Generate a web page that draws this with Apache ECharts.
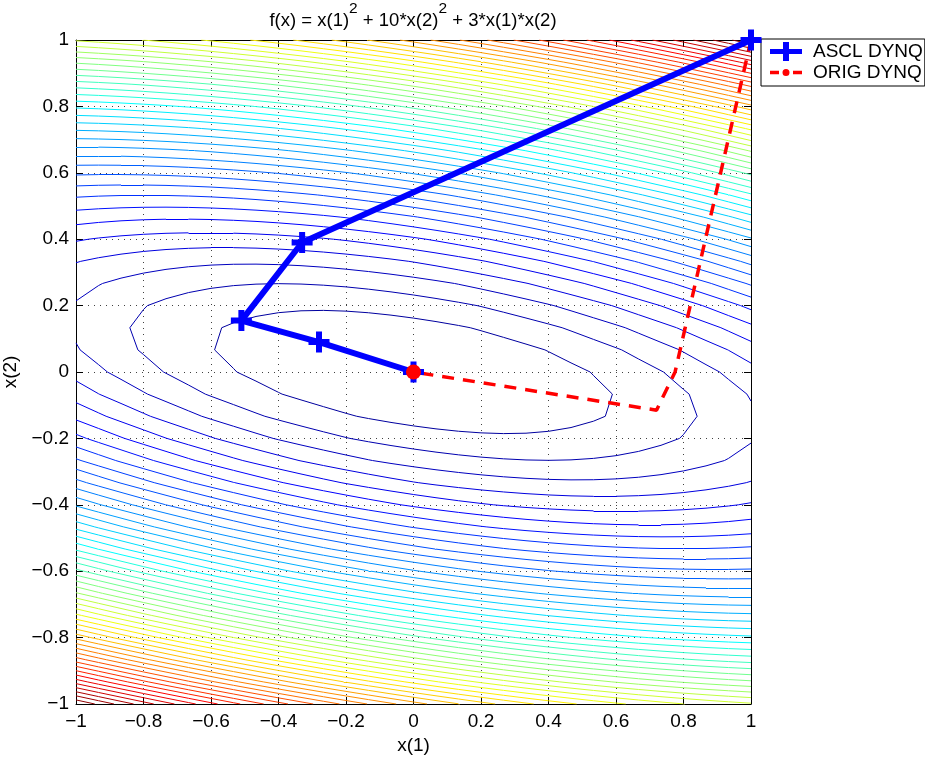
<!DOCTYPE html>
<html>
<head>
<meta charset="utf-8">
<script src="https://cdn.jsdelivr.net/npm/echarts@6/dist/echarts.min.js"></script>
<style>
  html, body { margin: 0; padding: 0; background: #fff; }
  #chart { width: 925px; height: 757px; }
</style>
</head>
<body>
<div id="chart"></div>
<script>
// Surface from the title: f(x) = x(1)^2 + 10*x(2)^2 + 3*x(1)*x(2)
// sampled on a coarse grid and contoured (as MATLAB's contour did)
const gridMin = -1;
const gridMax = 1;
const gridCount = 31;
const levelCount = 50;

// Optimizer paths
const asclX1 = [1, -0.33, -0.51, -0.28, 0];
const asclX2 = [1, 0.39, 0.155, 0.09, 0];
const origX1 = [1, 0.775, 0.72, 0];
const origX2 = [1, 0.0, -0.115, 0];

const legendNames = ['ASCL DYNQ', 'ORIG DYNQ'];
const titleText = '{n|f(x) = x(1)}{s|2}{n| + 10*x(2)}{s|2}{n| + 3*x(1)*x(2)}';

const FONT = '"Liberation Sans", Arial, Helvetica, sans-serif';

function f(a, b) {
    return a * a + 10 * b * b + 3 * a * b;
}

// MATLAB jet(m)
function jetMap(m) {
    const n = Math.ceil(m / 4);
    const u = [];
    for (let k = 1; k <= n; k++) u.push(k / n);
    for (let k = 1; k < n; k++) u.push(1);
    for (let k = n; k >= 1; k--) u.push(k / n);
    const g0 = Math.ceil(n / 2) - (m % 4 === 1 ? 1 : 0);
    const r = new Array(m).fill(0), g = new Array(m).fill(0), b = new Array(m).fill(0);
    u.forEach((v, k) => {
        const gi = g0 + k, ri = gi + n, bi = gi - n;
        if (gi >= 0 && gi < m) g[gi] = v;
        if (ri >= 0 && ri < m) r[ri] = v;
        if (bi >= 0 && bi < m) b[bi] = v;
    });
    return r.map((_, i) => 'rgb(' + Math.round(r[i] * 255) + ',' + Math.round(g[i] * 255) + ',' + Math.round(b[i] * 255) + ')');
}

// grid values
const gx = [];
for (let i = 0; i < gridCount; i++) gx.push(gridMin + i * (gridMax - gridMin) / (gridCount - 1));
const Z = gx.map(y => gx.map(x => f(x, y)));
let zmin = Infinity, zmax = -Infinity;
Z.forEach(row => row.forEach(v => { zmin = Math.min(zmin, v); zmax = Math.max(zmax, v); }));

const levels = [];
for (let k = 1; k <= levelCount; k++) levels.push(zmin + k * (zmax - zmin) / (levelCount + 1));

const jet = jetMap(64);
function levelColor(L) {
    const idx = Math.min(63, Math.floor((L - zmin) / (zmax - zmin) * 64));
    return jet[idx];
}

// marching squares, linear interpolation along cell edges
function contourSegments() {
    const segs = [];
    levels.forEach(L => {
        const color = levelColor(L);
        for (let j = 0; j < gridCount - 1; j++) {
            for (let i = 0; i < gridCount - 1; i++) {
                const corners = [
                    [gx[i], gx[j], Z[j][i]],
                    [gx[i + 1], gx[j], Z[j][i + 1]],
                    [gx[i + 1], gx[j + 1], Z[j + 1][i + 1]],
                    [gx[i], gx[j + 1], Z[j + 1][i]]
                ];
                const pts = [];
                for (let e = 0; e < 4; e++) {
                    const a = corners[e], b = corners[(e + 1) % 4];
                    if ((a[2] > L) !== (b[2] > L)) {
                        const t = (L - a[2]) / (b[2] - a[2]);
                        pts.push([a[0] + t * (b[0] - a[0]), a[1] + t * (b[1] - a[1])]);
                    }
                }
                if (pts.length >= 2) segs.push({ coords: [pts[0], pts[1]], lineStyle: { color } });
                if (pts.length === 4) segs.push({ coords: [pts[2], pts[3]], lineStyle: { color } });
            }
        }
    });
    return segs;
}

const plusPath = 'path://M0,7.5L7.5,7.5L7.5,0L13.5,0L13.5,7.5L21,7.5L21,13.5L13.5,13.5L13.5,21L7.5,21L7.5,13.5L0,13.5Z';
const plusLegend = 'path://M0,7L13,7L13,0L19,0L19,7L32,7L32,12L19,12L19,19L13,19L13,12L0,12Z';
const dashDotLegend = 'path://M0,8L9,8L9,11.5L0,11.5Z M23,8L32,8L32,11.5L23,11.5Z M12.5,9.75A3.5,3.5 0 1,0 19.5,9.75A3.5,3.5 0 1,0 12.5,9.75Z';

function tickFmt(v) {
    const r = Math.round(v * 10) / 10;
    return String(r).replace('-', '\u2212');
}

const chart = echarts.init(document.getElementById('chart'));

const baseAxis = {
    type: 'value',
    min: -1,
    max: 1,
    interval: 0.2,
    axisLine: { show: true, onZero: false, lineStyle: { color: '#000', width: 1 } },
    axisTick: { show: true, inside: true, length: 7, lineStyle: { color: '#000' } },
    splitLine: { show: true, lineStyle: { color: '#000', width: 1, type: [1, 5], opacity: 0.75 } },
    axisLabel: { color: '#000', fontSize: 19, fontFamily: FONT, formatter: tickFmt }
};

const lastO = origX1.length - 1;

chart.setOption({
    animation: false,
    backgroundColor: '#fff',
    title: {
        text: titleText,
        left: 413,
        top: 1,
        padding: 0,
        textAlign: 'center',
        textStyle: {
            fontWeight: 'normal',
            rich: {
                n: { fontSize: 18.5, fontWeight: 'normal', fontFamily: FONT, color: '#000', lineHeight: 29, verticalAlign: 'bottom' },
                s: { fontSize: 15.5, fontWeight: 'normal', fontFamily: FONT, color: '#000', lineHeight: 21, verticalAlign: 'top' }
            }
        }
    },
    grid: { left: 76, top: 40, width: 675, height: 664, containLabel: false, outerBoundsMode: 'none' },
    legend: {
        orient: 'vertical',
        left: 761,
        top: 39,
        padding: [2, 2, 3, 9],
        itemGap: 0,
        itemWidth: 32,
        itemHeight: 19,
        symbolKeepAspect: true,
        backgroundColor: '#fff',
        borderColor: '#000',
        borderWidth: 1,
        borderRadius: 0,
        textStyle: { fontSize: 19, fontFamily: FONT, color: '#000', lineHeight: 21, padding: [0, 0, 0, 6] },
        data: [
            { name: legendNames[0], icon: plusLegend, itemStyle: { color: '#0000ff' } },
            { name: legendNames[1], icon: dashDotLegend, itemStyle: { color: '#ff0000' } }
        ]
    },
    xAxis: [
        Object.assign({}, baseAxis, {
            position: 'bottom',
            name: 'x(1)',
            nameLocation: 'middle',
            nameGap: 31,
            nameTextStyle: { fontSize: 19, fontFamily: FONT, color: '#000' },
            axisLabel: Object.assign({}, baseAxis.axisLabel, { margin: 8 })
        }),
        Object.assign({}, baseAxis, {
            position: 'top',
            splitLine: { show: false },
            axisLabel: { show: false }
        })
    ],
    yAxis: [
        Object.assign({}, baseAxis, {
            position: 'left',
            name: 'x(2)',
            nameLocation: 'middle',
            nameGap: 46,
            nameTextStyle: { fontSize: 19, fontFamily: FONT, color: '#000' },
            axisLabel: Object.assign({}, baseAxis.axisLabel, { margin: 7 })
        }),
        Object.assign({}, baseAxis, {
            position: 'right',
            splitLine: { show: false },
            axisLabel: { show: false }
        })
    ],
    series: [
        {
            type: 'lines',
            coordinateSystem: 'cartesian2d',
            xAxisIndex: 0,
            yAxisIndex: 0,
            polyline: false,
            large: false,
            silent: true,
            z: 1,
            lineStyle: { width: 1, opacity: 1, curveness: 0 },
            data: contourSegments()
        },
        {
            type: 'line',
            name: legendNames[1],
            xAxisIndex: 0,
            yAxisIndex: 0,
            z: 3,
            symbol: 'none',
            lineStyle: { color: '#ff0000', width: 3.5, type: [12, 9] },
            itemStyle: { color: '#ff0000' },
            data: origX1.map((x, i) => [x, origX2[i]])
        },
        {
            type: 'line',
            name: legendNames[0],
            xAxisIndex: 0,
            yAxisIndex: 0,
            z: 4,
            symbol: plusPath,
            symbolSize: 21,
            showAllSymbol: true,
            lineStyle: { color: '#0000ff', width: 6 },
            itemStyle: { color: '#0000ff' },
            data: asclX1.map((x, i) => [x, asclX2[i]])
        },
        {
            type: 'scatter',
            name: 'optimum',
            xAxisIndex: 0,
            yAxisIndex: 0,
            z: 5,
            symbol: 'circle',
            symbolSize: 15,
            itemStyle: { color: '#ff0000', opacity: 1 },
            data: [[origX1[lastO], origX2[lastO]]]
        }
    ]
});
</script>
</body>
</html>
